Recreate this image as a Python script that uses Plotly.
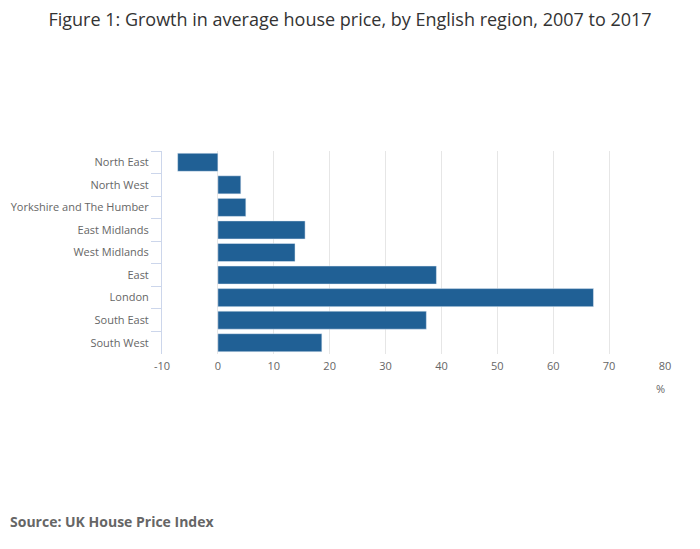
import plotly.graph_objects as go

# Growth in average house price 2007-2017 (%)
regions = [
    "North East", "North West", "Yorkshire and The Humber", "East Midlands",
    "West Midlands", "East", "London", "South East", "South West",
]
growth_pct = [-7.2, 4.1, 5.0, 15.6, 13.8, 39.1, 67.2, 37.3, 18.6]
x_ticks = [-10, 0, 10, 20, 30, 40, 50, 60, 70, 80]
x_tick_labels = ["-10", "0", "10", "20", "30", "40", "50", "60", "70", "80"]

FONT = "Open Sans, Noto Sans, sans-serif"

# page has an 8px body margin, so everything is shifted up/left by 8px
fig = go.Figure()
fig.add_trace(go.Bar(
    x=growth_pct,
    y=regions,
    orientation="h",
    marker_color="#206095",
    hoverinfo="x+y",
))

fig.update_layout(
    width=700,
    height=549,
    margin=dict(l=154, r=43, t=143, b=203),
    paper_bgcolor="white",
    plot_bgcolor="white",
    font=dict(family=FONT, color="#666666", size=11),
    bargap=0.2,
    showlegend=False,
    title=dict(
        text="Figure 1: Growth in average house price, by English region, 2007 to 2017",
        x=342 / 700, xanchor="center",
        y=1 - 12 / 549, yanchor="middle",
        font=dict(family=FONT, size=18, color="#333333"),
    ),
)

fig.update_xaxes(
    range=[-10, 80],
    tickvals=x_ticks,
    ticktext=x_tick_labels,
    showgrid=True,
    gridcolor="#e6e6e6",
    gridwidth=1,
    zeroline=False,
    showline=False,
    ticks="outside",
    ticklen=2,
    tickcolor="rgba(0,0,0,0)",
    tickfont=dict(size=11, color="#666666"),
    automargin=False,
)

fig.update_yaxes(
    autorange="reversed",
    showgrid=False,
    showline=True,
    linecolor="#ccd6eb",
    linewidth=1,
    ticks="outside",
    tickson="boundaries",
    ticklen=10,
    tickcolor="#ccd6eb",
    ticklabelstandoff=10,
    tickfont=dict(size=11, color="#666666"),
    automargin=False,
)

# unit label under the x axis
fig.add_annotation(
    text="%", xref="paper", yref="paper",
    x=(660 - 162) / 503, y=-(386 - 352) / 203,
    xanchor="center", yanchor="middle",
    showarrow=False, font=dict(size=11, color="#666666"),
)

# source note
fig.add_annotation(
    text="<b>Source: UK House Price Index</b>", xref="paper", yref="paper",
    x=-(162 - 8) / 503, y=-(519 - 352) / 203,
    xanchor="left", yanchor="middle",
    showarrow=False, font=dict(size=14, color="#666666"),
)

fig.write_html("out.html")
